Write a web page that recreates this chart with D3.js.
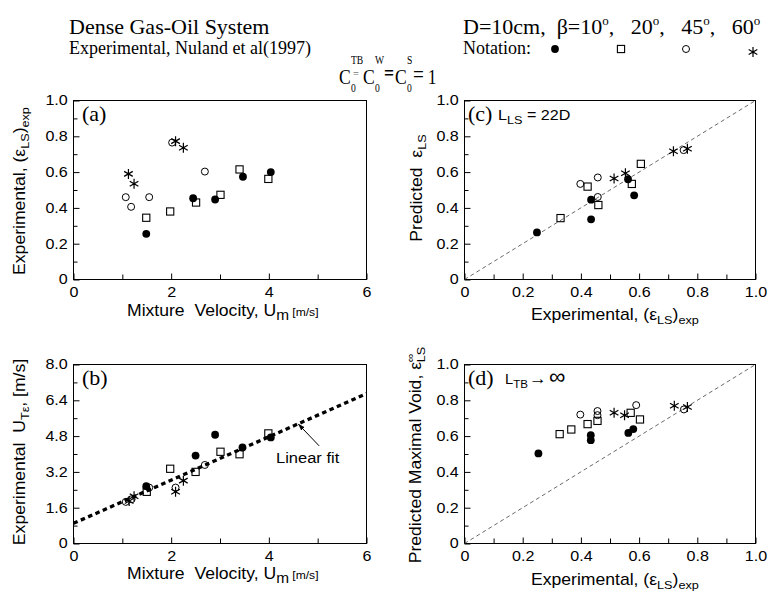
<!DOCTYPE html>
<html>
<head>
<meta charset="utf-8">
<script src="https://cdn.jsdelivr.net/npm/d3@7"></script>
<style>
  body { margin: 0; background: #fff; }
  svg { display: block; }
</style>
</head>
<body>
<div id="chart"></div>
<script>
// ---- data: [x, y] per angle beta ----
// (a) experimental slug void vs mixture velocity Um [m/s]
const a10 = [[1.49, 0.255], [2.45, 0.454], [2.90, 0.447], [3.47, 0.574], [4.04, 0.60]];
const a20 = [[1.49, 0.345], [1.98, 0.38], [2.51, 0.43], [3.01, 0.473], [3.40, 0.615], [3.99, 0.562]];
const a45 = [[1.07, 0.46], [1.18, 0.406], [1.55, 0.46], [2.02, 0.765], [2.69, 0.603]];
const a60 = [[1.125, 0.59], [1.24, 0.535], [2.09, 0.773], [2.25, 0.736]];

// (b) experimental bubble velocity UTe [m/s] vs Um
const b10 = [[1.49, 2.56], [2.50, 3.93], [2.90, 4.86], [3.46, 4.29], [4.04, 4.74]];
const b20 = [[1.50, 2.31], [1.98, 3.34], [2.50, 3.20], [3.01, 4.10], [3.40, 3.99], [3.99, 4.92]];
const b45 = [[1.07, 1.86], [1.19, 1.98], [1.55, 2.50], [2.09, 2.50], [2.69, 3.51]];
const b60 = [[1.14, 1.90], [1.24, 2.11], [2.09, 2.31], [2.25, 2.81]];
const fitX = [0, 6];
const fitY = [0.9, 6.7];

// (c) predicted vs experimental, LLS = 22D
const c10 = [[0.249, 0.263], [0.435, 0.446], [0.435, 0.336], [0.562, 0.56], [0.583, 0.47]];
const c20 = [[0.33, 0.343], [0.423, 0.519], [0.46, 0.416], [0.575, 0.534], [0.606, 0.646]];
const c45 = [[0.398, 0.534], [0.458, 0.57], [0.458, 0.461], [0.753, 0.723]];
const c60 = [[0.514, 0.564], [0.553, 0.594], [0.718, 0.717], [0.766, 0.73]];

// (d) predicted maximal void vs experimental
const d10 = [[0.254, 0.503], [0.434, 0.605], [0.434, 0.577], [0.563, 0.618], [0.58, 0.639]];
const d20 = [[0.327, 0.611], [0.367, 0.637], [0.423, 0.667], [0.457, 0.685], [0.571, 0.73], [0.603, 0.693]];
const d45 = [[0.398, 0.72], [0.457, 0.74], [0.457, 0.717], [0.59, 0.773], [0.754, 0.749]];
const d60 = [[0.514, 0.73], [0.55, 0.717], [0.721, 0.769], [0.766, 0.763]];

// ticks
const umTicks = [0, 2, 4, 6];
const umMinor = [1, 3, 5];
const epsTicks = [0, 0.2, 0.4, 0.6, 0.8, 1.0];
const epsMinor = [0.1, 0.3, 0.5, 0.7, 0.9];
const utTicks = [0, 1.6, 3.2, 4.8, 6.4, 8.0];
const utMinor = [0.8, 2.4, 4.0, 5.6, 7.2];

const angles = ["10", "20", "45", "60"];

// ---- setup ----
const width = 770, height = 595;
const sansFont = '"Liberation Sans", Arial, Helvetica, sans-serif';
const serifFont = '"Liberation Serif", "Times New Roman", Times, serif';
const stretch = 1.15;

const svg = d3.select("#chart").append("svg")
    .attr("width", width)
    .attr("height", height);

// text with sub/superscript parts
function label(parent, {x, y, parts, size = 16, font = sansFont, anchor = "start", rotate = 0, sx = 1}) {
    let tf = `translate(${x},${y})`;
    if (rotate) tf += ` rotate(${rotate})`;
    if (sx !== 1) tf += ` scale(${sx},1)`;
    const t = parent.append("text")
        .attr("transform", tf)
        .attr("text-anchor", anchor)
        .style("font-family", font)
        .style("font-size", size + "px")
        .style("white-space", "pre");
    let off = 0;
    parts.forEach(p => {
        const [s, kind = "n", extra = {}] = typeof p === "string" ? [p] : p;
        const shift = kind === "sub" ? size * 0.28 : kind === "sup" ? -size * 0.42 : 0;
        const ts = t.append("tspan").attr("dy", shift - off).text(s);
        if (extra.size) ts.style("font-size", extra.size + "px");
        else if (kind !== "n") ts.style("font-size", size * 0.72 + "px");
        if (extra.dx) ts.attr("dx", extra.dx);
        off = shift;
    });
    return t;
}

function asterisk(r) {
    const t = r / 2, u = t * Math.sqrt(3);
    return `M0,${r}L0,${-r}M${-u},${-t}L${u},${t}M${-u},${t}L${u},${-t}`;
}

function drawMarks(g, data, kind, x, y) {
    const pts = g.append("g").selectAll("g")
        .data(data)
        .join("g")
        .attr("transform", d => `translate(${x(d[0])},${y(d[1])})`);
    if (kind === "filled") {
        pts.append("circle").attr("r", 3.9).attr("fill", "#000");
    } else if (kind === "open") {
        pts.append("circle").attr("r", 3.5).attr("fill", "none").attr("stroke", "#000").attr("stroke-width", 1);
    } else if (kind === "square") {
        pts.append("rect").attr("x", -3.6).attr("y", -3.6).attr("width", 7.2).attr("height", 7.2)
            .attr("fill", "none").attr("stroke", "#000").attr("stroke-width", 1.1);
    } else {
        pts.append("path").attr("d", asterisk(5)).attr("fill", "none").attr("stroke", "#000").attr("stroke-width", 1.2);
    }
}

const kinds = ["filled", "square", "open", "star"];

function drawPanel(p) {
    const g = svg.append("g");
    const x = d3.scaleLinear().domain(p.xDomain).range([p.left, p.left + p.w]);
    const y = d3.scaleLinear().domain(p.yDomain).range([p.top + p.h, p.top]);
    const bottom = p.top + p.h;

    const styleAxis = sel => {
        sel.select(".domain").remove();
        sel.selectAll("line").attr("stroke", "#000").attr("stroke-width", 1);
        sel.attr("font-family", sansFont).attr("font-size", 14);
        sel.selectAll("text").attr("fill", "#000").attr("transform", `scale(${stretch},1)`);
    };

    g.append("g").attr("transform", `translate(0,${bottom})`)
        .call(d3.axisBottom(x).tickValues(p.xMinor).tickSizeInner(-5).tickSizeOuter(0).tickFormat(""))
        .call(styleAxis);
    g.append("g").attr("transform", `translate(0,${bottom})`)
        .call(d3.axisBottom(x).tickValues(p.xTicks).tickSizeInner(-6).tickSizeOuter(0).tickPadding(8).tickFormat(p.xFmt))
        .call(styleAxis);
    g.append("g").attr("transform", `translate(${p.left},0)`)
        .call(d3.axisLeft(y).tickValues(p.yMinor).tickSizeInner(-4).tickSizeOuter(0).tickFormat(""))
        .call(styleAxis);
    g.append("g").attr("transform", `translate(${p.left},0)`)
        .call(d3.axisLeft(y).tickValues(p.yTicks).tickSizeInner(-6).tickSizeOuter(0).tickPadding(5).tickFormat(p.yFmt))
        .call(styleAxis);

    g.append("rect")
        .attr("x", p.left).attr("y", p.top)
        .attr("width", p.w).attr("height", p.h)
        .attr("fill", "none").attr("stroke", "#000").attr("stroke-width", 1);

    if (p.diag) {
        g.append("line")
            .attr("x1", x(0)).attr("y1", y(0)).attr("x2", x(1)).attr("y2", y(1))
            .attr("stroke", "#444").attr("stroke-width", 0.8).attr("stroke-dasharray", "4,3");
    }
    if (p.fit) {
        g.append("path")
            .datum(d3.zip(fitX, fitY))
            .attr("d", d3.line().x(d => x(d[0])).y(d => y(d[1])))
            .attr("fill", "none").attr("stroke", "#000")
            .attr("stroke-width", 3.3).attr("stroke-dasharray", "4.5,3.5");
    }

    p.series.forEach((s, i) => drawMarks(g, s, kinds[i], x, y));
    return {g, x, y};
}

const num1 = d => d === 0 ? "0" : d.toFixed(1);
const numInt = d => String(d);

const pA = drawPanel({left: 73.5, top: 100.5, w: 293, h: 179, xDomain: [0, 6], yDomain: [0, 1],
    xTicks: umTicks, xMinor: umMinor, yTicks: epsTicks, yMinor: epsMinor, xFmt: numInt, yFmt: num1,
    series: [a10, a20, a45, a60]});
const pB = drawPanel({left: 73.5, top: 364.5, w: 293, h: 179, xDomain: [0, 6], yDomain: [0, 8],
    xTicks: umTicks, xMinor: umMinor, yTicks: utTicks, yMinor: utMinor, xFmt: numInt, yFmt: num1,
    series: [b10, b20, b45, b60], fit: true});
const pC = drawPanel({left: 464.5, top: 100.5, w: 291, h: 179, xDomain: [0, 1], yDomain: [0, 1],
    xTicks: epsTicks, xMinor: epsMinor, yTicks: epsTicks, yMinor: epsMinor, xFmt: num1, yFmt: num1,
    series: [c10, c20, c45, c60], diag: true});
const pD = drawPanel({left: 464.5, top: 364.5, w: 291, h: 179, xDomain: [0, 1], yDomain: [0, 1],
    xTicks: epsTicks, xMinor: epsMinor, yTicks: epsTicks, yMinor: epsMinor, xFmt: num1, yFmt: num1,
    series: [d10, d20, d45, d60], diag: true});

// ---- panel tags ----
const tagStyle = {size: 22, font: serifFont};
label(svg, {x: 82, y: 121, parts: ["(a)"], ...tagStyle});
label(svg, {x: 82, y: 385, parts: ["(b)"], ...tagStyle});
label(svg, {x: 468, y: 121, parts: ["(c)"], ...tagStyle});
label(svg, {x: 468, y: 385, parts: ["(d)"], ...tagStyle});
label(svg, {x: 498, y: 120, size: 14, sx: stretch, parts: ["L", ["LS", "sub", {size: 11}], " = 22D"]});
label(svg, {x: 505, y: 384, size: 14, sx: 1.05, parts: ["L", ["TB", "sub", {size: 11}], ["\u2192", "n", {size: 17, dx: 1}], ["\u221E", "n", {size: 22, dx: 2}]]});

// linear fit note
const fitAt = 4.6;
const fitV = fitY[0] + (fitY[1] - fitY[0]) * (fitAt - fitX[0]) / (fitX[1] - fitX[0]);
svg.append("defs").append("marker")
    .attr("id", "head")
    .attr("viewBox", "0 0 10 10")
    .attr("refX", 10).attr("refY", 5)
    .attr("markerWidth", 7).attr("markerHeight", 7)
    .attr("orient", "auto")
    .append("path").attr("d", "M0,1.5L10,5L0,8.5z").attr("fill", "#000");
svg.append("line")
    .attr("x1", pB.x(fitAt) + 21).attr("y1", pB.y(fitV) + 22)
    .attr("x2", pB.x(fitAt)).attr("y2", pB.y(fitV))
    .attr("stroke", "#000").attr("stroke-width", 1)
    .attr("marker-end", "url(#head)");
label(svg, {x: 276, y: 463, size: 15, sx: 1.1, parts: ["Linear fit"]});

// ---- axis titles ----
const epsExp = ["Experimental, (\u03B5", ["LS", "sub"], ")", ["exp", "sub"]];
const umLabel = ["Mixture  Velocity, U", ["m", "sub", {size: 14}], [" [m/s]", "n", {size: 11}]];

label(svg, {x: 25, y: 191, rotate: -90, anchor: "middle", sx: 1.1, parts: epsExp});
label(svg, {x: 25, y: 452, rotate: -90, anchor: "middle", sx: 1.1,
    parts: ["Experimental  U", ["T\u03B5", "sub"], ", [m/s]"]});
label(svg, {x: 422, y: 188, rotate: -90, anchor: "middle", sx: 1.1, parts: ["Predicted  \u03B5", ["LS", "sub"]]});
label(svg, {x: 421, y: 455, rotate: -90, anchor: "middle", sx: 1.1,
    parts: ["Predicted Maximal Void, \u03B5", ["\u221E", "sup", {size: 11}], ["LS", "sub", {dx: -8}]]});

label(svg, {x: 127, y: 316, sx: 1.1, parts: umLabel});
label(svg, {x: 127, y: 579, sx: 1.1, parts: umLabel});
label(svg, {x: 531, y: 320, sx: 1.1, parts: epsExp});
label(svg, {x: 531, y: 585, sx: 1.1, parts: epsExp});

// ---- header ----
label(svg, {x: 69, y: 34, size: 22, font: serifFont, parts: ["Dense Gas-Oil System"]});
label(svg, {x: 69, y: 54, size: 18, font: serifFont, parts: ["Experimental, Nuland et al(1997)"]});

const betaParts = ["D=10cm,  \u03B2="];
angles.forEach((a, i) => {
    betaParts.push(i === 0 ? a : ",   " + a);
    betaParts.push(["o", "sup", {size: 13}]);
});
label(svg, {x: 463, y: 34, size: 22, font: serifFont, parts: betaParts});
label(svg, {x: 463, y: 54, size: 18, font: serifFont, parts: ["Notation:"]});

const legendX = [555, 621, 686, 753];
const legendG = svg.append("g");
kinds.forEach((k, i) => {
    const lx = d3.scaleLinear().domain([0, 1]).range([legendX[i], legendX[i] + 1]);
    const ly = d3.scaleLinear().domain([0, 1]).range([k === "star" ? 52 : 49, 48]);
    drawMarks(legendG, [[0, 0]], k, lx, ly);
});

// C0^TB = C0^W = C0^S = 1  (one text, pieces placed in a narrowed frame)
const formula = [
    [0, 84, "C", 22], [15, 64, "TB", 12], [17.5, 78, "=", 13], [15, 92, "0", 12],
    [30, 84, "C", 22], [45, 64, "W", 12], [45, 92, "0", 12], [56.25, 80, "=", 22],
    [70, 84, "C", 22], [85, 64, "S", 12], [85, 92, "0", 12], [92.5, 82, "=", 24],
    [111, 84, "1", 22]
];
svg.append("text")
    .attr("transform", "translate(339,0) scale(0.8,1)")
    .style("font-family", serifFont)
    .selectAll("tspan")
    .data(formula)
    .join("tspan")
    .attr("x", d => d[0])
    .attr("y", d => d[1])
    .style("font-size", d => d[3] + "px")
    .style("font-weight", d => d[2] === "=" && d[3] === 22 ? "bold" : "normal")
    .attr("fill", d => d[2] === "=" && d[3] === 13 ? "#777" : "#000")
    .text(d => d[2]);
</script>
</body>
</html>
